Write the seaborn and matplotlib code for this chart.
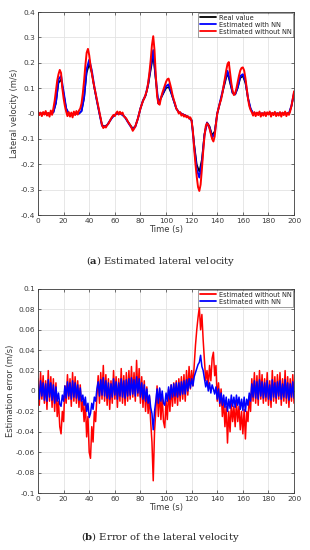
import numpy as np
import matplotlib
matplotlib.use('Agg')
import matplotlib.pyplot as plt
import seaborn as sns
from matplotlib.ticker import FuncFormatter

# smooth series sampled every 2 s, noisy series every 1 s
t2 = np.arange(0, 201, 2)
t1 = np.arange(0, 201, 1)

real_value = [
    0.0, 0.0, 0.0, 0.0, 0.0, 0.0,
    0.005, 0.04, 0.12, 0.135, 0.08, 0.02,
    0.0, -0.005, 0.0, 0.0, 0.0, 0.01,
    0.06, 0.16, 0.195, 0.16, 0.1, 0.05,
    0.0, -0.045, -0.05, -0.045, -0.03, -0.015,
    -0.005, 0.0, 0.0, -0.005, -0.015, -0.03,
    -0.045, -0.058, -0.05, -0.02, 0.02, 0.05,
    0.07, 0.11, 0.17, 0.23, 0.13, 0.04,
    0.06, 0.08, 0.1, 0.105, 0.08, 0.05,
    0.02, 0.005, 0.0, -0.005, -0.01, -0.015,
    -0.025, -0.12, -0.2, -0.229, -0.18, -0.08,
    -0.035, -0.05, -0.085, -0.07, 0.0, 0.04,
    0.08, 0.12, 0.16, 0.12, 0.08, 0.075,
    0.1, 0.14, 0.148, 0.12, 0.06, 0.02,
    0.0, 0.0, 0.0, 0.0, 0.0, 0.0,
    0.0, 0.0, 0.0, 0.0, 0.0, 0.0,
    0.0, 0.0, 0.0, 0.03, 0.08]

est_nn = [
    0.0, 0.0, 0.0, 0.0, 0.0, 0.0,
    0.005, 0.045, 0.135, 0.148, 0.085, 0.02,
    0.0, -0.005, 0.0, 0.0, 0.0, 0.01,
    0.065, 0.175, 0.212, 0.17, 0.105, 0.05,
    0.0, -0.048, -0.052, -0.046, -0.03, -0.015,
    -0.005, 0.0, 0.0, -0.005, -0.015, -0.032,
    -0.048, -0.062, -0.052, -0.02, 0.02, 0.052,
    0.072, 0.115, 0.185, 0.25, 0.14, 0.04,
    0.062, 0.085, 0.108, 0.115, 0.085, 0.052,
    0.02, 0.005, 0.0, -0.005, -0.01, -0.016,
    -0.028, -0.13, -0.22, -0.252, -0.195, -0.085,
    -0.036, -0.055, -0.095, -0.078, 0.0, 0.042,
    0.085, 0.13, 0.168, 0.13, 0.082, 0.076,
    0.105, 0.148, 0.155, 0.128, 0.062, 0.02,
    0.0, 0.0, 0.0, 0.0, 0.0, 0.0,
    0.0, 0.0, 0.0, 0.0, 0.0, 0.0,
    0.0, 0.0, 0.0, 0.032, 0.082]

est_no_nn = [
    0.008, -0.006, 0.004, -0.01, 0.006, -0.004, 0.01, -0.008, 0.003, -0.012,
    0.012, -0.005, 0.02, 0.05, 0.09, 0.13, 0.155, 0.172, 0.16, 0.1,
    0.06, 0.03, 0.008, -0.01, 0.006, -0.012, 0.004, -0.015, 0.008, -0.006,
    0.01, -0.004, 0.012, 0.02, 0.04, 0.08, 0.13, 0.19, 0.24, 0.255,
    0.23, 0.19, 0.16, 0.13, 0.105, 0.08, 0.055, 0.03, 0.005, -0.02,
    -0.045, -0.057, -0.05, -0.055, -0.045, -0.04, -0.03, -0.02, -0.012, -0.005,
    -0.01, 0.002, 0.008, -0.004, 0.007, -0.002, 0.004, -0.01, -0.015, -0.02,
    -0.03, -0.038, -0.045, -0.055, -0.068, -0.06, -0.05, -0.035, -0.02, 0.0,
    0.02, 0.035, 0.05, 0.06, 0.075, 0.09, 0.12, 0.16, 0.21, 0.27,
    0.305, 0.25, 0.15, 0.07, 0.04, 0.035, 0.06, 0.08, 0.095, 0.11,
    0.125, 0.135, 0.138, 0.12, 0.1, 0.075, 0.055, 0.04, 0.02, 0.012,
    0.0, 0.006, -0.008, -0.002, -0.012, -0.006, -0.015, -0.01, -0.02, -0.015,
    -0.03, -0.07, -0.14, -0.2, -0.25, -0.29, -0.305, -0.28, -0.22, -0.15,
    -0.09, -0.05, -0.038, -0.045, -0.06, -0.08, -0.1, -0.11, -0.09, -0.04,
    0.0, 0.02, 0.04, 0.055, 0.08, 0.11, 0.14, 0.17, 0.195, 0.203,
    0.16, 0.12, 0.09, 0.073, 0.08, 0.1, 0.125, 0.15, 0.17, 0.18,
    0.182, 0.17, 0.14, 0.1, 0.06, 0.03, 0.015, 0.005, -0.008, 0.006,
    -0.01, 0.004, -0.006, 0.008, -0.012, 0.002, -0.008, 0.006, -0.01, 0.005,
    -0.004, 0.008, -0.012, 0.003, -0.006, 0.007, -0.01, 0.002, -0.008, 0.006,
    -0.012, 0.004, -0.006, 0.008, -0.01, 0.003, -0.005, 0.01, 0.03, 0.06,
    0.088]

err_no_nn = [
    0.012, -0.014, 0.018, -0.008, 0.015, -0.012, 0.01, -0.018, 0.02, -0.01,
    0.014, -0.016, 0.012, -0.02, 0.008, -0.025, -0.01, -0.035, -0.042, -0.02,
    -0.03, 0.005, -0.012, 0.016, -0.008, 0.012, -0.015, 0.018, -0.01, 0.014,
    -0.012, 0.01, -0.016, 0.006, -0.02, -0.01, -0.03, -0.012, -0.045, -0.025,
    -0.06, -0.066, -0.035, -0.05, -0.02, -0.03, -0.005, 0.015, -0.012, 0.018,
    -0.008, 0.025, -0.01, 0.016, -0.014, 0.012, -0.018, 0.01, -0.012, 0.02,
    -0.008, 0.014, -0.016, 0.012, -0.01, 0.022, -0.012, 0.015, -0.014, 0.018,
    -0.01, 0.02, -0.008, 0.024, -0.006, 0.018, -0.01, 0.03, -0.005, 0.022,
    -0.012, 0.014, -0.016, 0.01, -0.02, 0.004, -0.022, -0.005, -0.03, -0.05,
    -0.088, -0.04, -0.02, 0.005, -0.025, 0.002, -0.028, -0.005, -0.03, -0.036,
    -0.01, -0.028, 0.002, -0.02, 0.006, -0.015, 0.008, -0.012, 0.01, -0.014,
    0.012, -0.01, 0.014, -0.008, 0.016, -0.01, 0.02, -0.004, 0.024, 0.002,
    0.02, 0.005, 0.025, 0.045, 0.06, 0.072, 0.082, 0.06, 0.075, 0.05,
    0.03, 0.01, 0.02, 0.005, 0.025, 0.01, 0.032, 0.038, 0.015, 0.025,
    -0.01, 0.008, -0.015, 0.002, -0.025, -0.01, -0.035, -0.015, -0.051, -0.02,
    -0.04, -0.012, -0.03, -0.015, -0.035, -0.01, -0.03, -0.015, -0.038, -0.02,
    -0.042, -0.018, -0.047, -0.02, -0.03, -0.005, -0.02, 0.012, -0.01, 0.018,
    -0.012, 0.015, -0.014, 0.02, -0.008, 0.016, -0.012, 0.012, -0.01, 0.018,
    -0.014, 0.01, -0.016, 0.02, -0.01, 0.014, -0.012, 0.016, -0.008, 0.018,
    -0.014, 0.012, -0.01, 0.02, -0.012, 0.014, -0.016, 0.012, -0.01, 0.016,
    -0.012]

err_nn = [
    0.006, -0.008, 0.01, -0.005, 0.008, -0.009, 0.007, -0.01, 0.011, -0.006,
    0.008, -0.009, 0.006, -0.012, 0.004, -0.01, -0.002, -0.013, -0.015, -0.004,
    -0.01, 0.005, -0.007, 0.009, -0.005, 0.008, -0.008, 0.01, -0.006, 0.008,
    -0.007, 0.006, -0.009, 0.003, -0.01, -0.004, -0.014, -0.006, -0.02, -0.012,
    -0.026, -0.022, -0.012, -0.018, -0.006, -0.01, 0.002, 0.009, -0.005, 0.011,
    -0.004, 0.013, -0.005, 0.01, -0.007, 0.008, -0.008, 0.007, -0.006, 0.012,
    -0.004, 0.009, -0.008, 0.008, -0.005, 0.012, -0.006, 0.01, -0.007, 0.011,
    -0.005, 0.012, -0.004, 0.013, -0.003, 0.011, -0.005, 0.014, -0.002, 0.012,
    -0.006, 0.008, -0.008, 0.006, -0.01, 0.002, -0.012, -0.004, -0.016, -0.022,
    -0.038, -0.02, -0.01, 0.002, -0.012, 0.003, -0.01, 0.0, -0.012, -0.014,
    -0.002, -0.01, 0.004, -0.008, 0.006, -0.006, 0.007, -0.005, 0.008, -0.006,
    0.008, -0.004, 0.009, -0.003, 0.01, -0.003, 0.011, 0.0, 0.012, 0.003,
    0.012, 0.005, 0.014, 0.018, 0.022, 0.026, 0.028, 0.035, 0.024, 0.02,
    0.012, 0.004, 0.01, 0.0, 0.008, -0.002, 0.006, 0.002, -0.003, 0.004,
    -0.008, 0.002, -0.012, -0.002, -0.014, -0.004, -0.016, -0.006, -0.02, -0.008,
    -0.017, -0.004, -0.015, -0.006, -0.016, -0.004, -0.014, -0.006, -0.018, -0.008,
    -0.019, -0.006, -0.02, -0.008, -0.014, -0.002, -0.01, 0.007, -0.006, 0.01,
    -0.007, 0.009, -0.008, 0.011, -0.005, 0.009, -0.007, 0.008, -0.006, 0.01,
    -0.008, 0.006, -0.009, 0.011, -0.006, 0.008, -0.007, 0.009, -0.005, 0.01,
    -0.008, 0.007, -0.006, 0.011, -0.007, 0.008, -0.009, 0.007, -0.006, 0.009,
    -0.007]

sns.set_theme(style='whitegrid')
plt.rcParams['font.family'] = ['DejaVu Sans']
plt.rcParams['mathtext.fontset'] = 'dejavuserif'

GRID = '#e3e3e3'
SPINE = '#3a3a3a'
FS = 5.3


def style_axes(ax, ylim, yticks, ylabel):
    ax.set_xlim(0, 200)
    ax.set_ylim(*ylim)
    ax.set_xticks(np.arange(0, 201, 20))
    ax.set_yticks(yticks)
    ax.yaxis.set_major_formatter(FuncFormatter(lambda v, p: f'{v:g}'))
    ax.xaxis.set_major_formatter(FuncFormatter(lambda v, p: f'{v:g}'))
    ax.set_facecolor('white')
    ax.grid(True, color=GRID, linewidth=0.6)
    for s in ax.spines.values():
        s.set_visible(True)
        s.set_color(SPINE)
        s.set_linewidth(0.6)
    ax.tick_params(direction='in', length=2.5, width=0.5, colors=SPINE,
                   labelsize=FS, pad=2, top=True, right=True, bottom=True, left=True)
    ax.set_xlabel('Time (s)', fontsize=6, color=SPINE, labelpad=1)
    ax.set_ylabel(ylabel, fontsize=6, color=SPINE, labelpad=1)


def style_legend(ax):
    leg = ax.legend(loc='upper right', fontsize=4.8, frameon=True, fancybox=False,
                    handlelength=2.4, borderpad=0.3, labelspacing=0.15,
                    borderaxespad=0.1, handletextpad=0.4)
    leg.get_frame().set_edgecolor('#555555')
    leg.get_frame().set_linewidth(0.5)
    for ln in leg.get_lines():
        ln.set_linewidth(1.3)


fig = plt.figure(figsize=(3.1, 5.5), dpi=100)
ax1 = fig.add_axes([0.1226, 0.609, 0.826, 0.369])
ax2 = fig.add_axes([0.1226, 0.1036, 0.826, 0.371])

sns.lineplot(x=t2, y=real_value, ax=ax1, color='black', linewidth=1.1, label='Real value')
sns.lineplot(x=t2, y=est_nn, ax=ax1, color='blue', linewidth=1.4, label='Estimated with NN')
sns.lineplot(x=t1, y=est_no_nn, ax=ax1, color='red', linewidth=1.4, label='Estimated without NN')
style_axes(ax1, (-0.4, 0.4), np.round(np.arange(-0.4, 0.41, 0.1), 2), 'Lateral velocity (m/s)')
style_legend(ax1)

sns.lineplot(x=t1, y=err_no_nn, ax=ax2, color='red', linewidth=1.1, label='Estimated without NN')
sns.lineplot(x=t1, y=err_nn, ax=ax2, color='blue', linewidth=1.1, label='Estimated with NN')
style_axes(ax2, (-0.1, 0.1), np.round(np.arange(-0.1, 0.101, 0.02), 2), 'Estimation error (m/s)')
style_legend(ax2)

fig.text(0.518, 0.525, r'($\mathbf{a}$) Estimated lateral velocity', ha='center', va='center',
         fontsize=7.2, family='DejaVu Serif', color='#222222')
fig.text(0.518, 0.024, r'($\mathbf{b}$) Error of the lateral velocity', ha='center', va='center',
         fontsize=7.2, family='DejaVu Serif', color='#222222')

fig.savefig('out.png', dpi=100)
